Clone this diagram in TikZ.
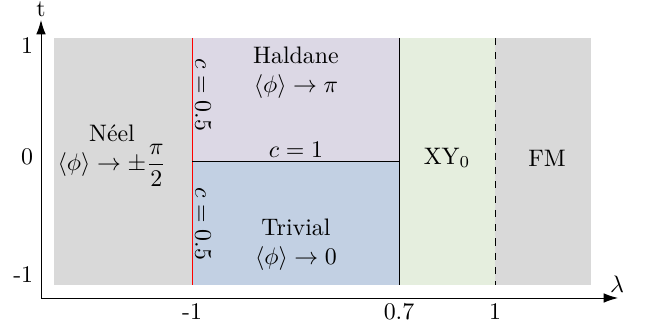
\documentclass[tikz,border=0pt]{standalone}
\usepackage{amsmath}
\definecolor{neelgray}{RGB}{217,217,217}
\definecolor{haldanecol}{RGB}{220,216,229}
\definecolor{trivialcol}{RGB}{194,208,227}
\definecolor{xycol}{RGB}{229,238,222}
\usetikzlibrary{arrows.meta}

\begin{document}
\begin{tikzpicture}[x=0.419pt,y=-0.419pt,
  phase/.style={align=center,inner sep=1pt},
  ticklab/.style={inner sep=1pt}]
\useasboundingbox (0,0) rectangle (652,327);
% phase regions
\fill[neelgray] (54,38) rectangle (192,285);
\fill[haldanecol] (192,38) rectangle (399,161);
\fill[trivialcol] (192,161) rectangle (399,285);
\fill[xycol] (399,38) rectangle (495,285);
\fill[neelgray] (495,38) rectangle (591,285);
% boundaries
\draw[red] (192,38) -- (192,285);
\draw (192,161) -- (399,161);
\draw (399,38) -- (399,285);
\draw[dashed] (495,38) -- (495,285);
% axes
\coordinate (o) at (41,298);
\coordinate (xend) at (618,298);
\coordinate (yend) at (41,20);
\draw[-{Latex[length=6pt,width=4pt]}] (o) -- (xend);
\draw[-{Latex[length=6pt,width=4pt]}] (o) -- (yend);
\node (lam) at (617,284) {$\lambda$};
\node (tlab) at (41,9) {t};
\foreach \x/\t in {192/-1,399/0.7,495/1}
  \node[ticklab] at (\x,312) {\t};
\foreach \y/\t in {46/1,157/0,275/-1}
  \node[ticklab,anchor=east] at (36,\y) {\t};
% labels
\node[phase] (neel) at (112,156) {N\'eel\\ $\langle\phi\rangle\to\pm\dfrac{\pi}{2}$};
\node[phase] (haldane) at (296,73) {Haldane\\ $\langle\phi\rangle\to\pi$};
\node[phase] (trivial) at (296,245) {Trivial\\ $\langle\phi\rangle\to 0$};
\node[inner sep=1pt,anchor=south] (c1) at (296,160) {$c=1$};
\node[rotate=-90,inner sep=1pt] (chalf1) at (203,95) {$c=0.5$};
\node[rotate=-90,inner sep=1pt] (chalf2) at (203,224) {$c=0.5$};
\node (xy) at (447,158) {XY$_0$};
\node (fm) at (547,158) {FM};
\end{tikzpicture}
\end{document}
